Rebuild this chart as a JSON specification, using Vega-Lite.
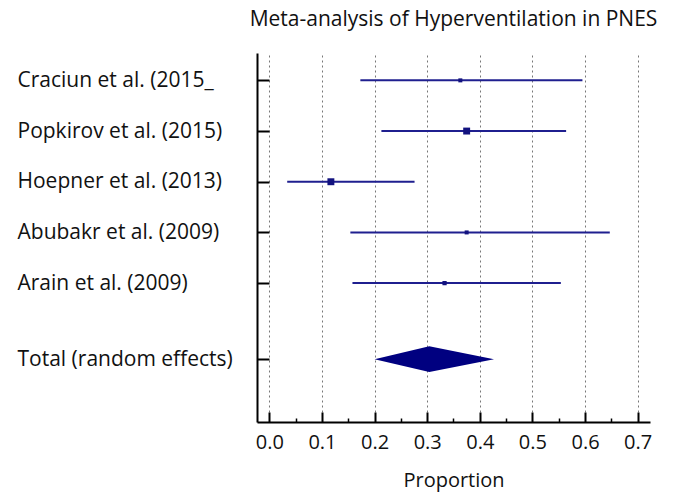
{
  "$schema": "https://vega.github.io/schema/vega-lite/v6.json",
  "width": 393,
  "height": 369,
  "autosize": {"type": "none"},
  "padding": {"left": 257, "top": 53, "right": 23, "bottom": 70},
  "background": "white",
  "title": {
    "text": "Meta-analysis of Hyperventilation in PNES",
    "font": "Open Sans",
    "fontSize": 21,
    "fontWeight": "normal",
    "color": "#111",
    "anchor": "middle",
    "offset": 23
  },
  "config": {
    "view": {"stroke": null},
    "font": "Open Sans"
  },
  "datasets": {
    "studies": [
      {"study": "Craciun et al. (2015_", "order": 1, "est": 0.363, "lo": 0.173, "hi": 0.595, "w": 8},
      {"study": "Popkirov et al. (2015)", "order": 2, "est": 0.375, "lo": 0.213, "hi": 0.564, "w": 24},
      {"study": "Hoepner et al. (2013)", "order": 3, "est": 0.117, "lo": 0.034, "hi": 0.276, "w": 24},
      {"study": "Abubakr et al. (2009)", "order": 4, "est": 0.375, "lo": 0.154, "hi": 0.647, "w": 8},
      {"study": "Arain et al. (2009)", "order": 5, "est": 0.333, "lo": 0.158, "hi": 0.554, "w": 9}
    ],
    "total": [
      {"x": 0.2, "ylo": 6.5, "yhi": 6.5},
      {"x": 0.304, "ylo": 6.244, "yhi": 6.756},
      {"x": 0.427, "ylo": 6.5, "yhi": 6.5}
    ]
  },
  "resolve": {"axis": {"x": "independent"}},
  "layer": [
    {
      "data": {"name": "studies"},
      "mark": {"type": "rule", "color": "#1f1f8f", "strokeWidth": 2},
      "encoding": {
        "x": {
          "field": "lo", "type": "quantitative",
          "scale": {"domain": [-0.0234, 0.7234], "nice": false, "zero": false},
          "axis": {
            "values": [0, 0.1, 0.2, 0.3, 0.4, 0.5, 0.6, 0.7],
            "format": ".1f",
            "title": "Proportion",
            "titleFont": "Open Sans",
            "titleFontSize": 20,
            "titleFontWeight": "normal",
            "titleColor": "#111",
            "titlePadding": 18,
            "labelFont": "Open Sans",
            "labelFontSize": 20,
            "labelColor": "#111",
            "labelPadding": 20,
            "tickSize": -10,
            "tickWidth": 2,
            "tickColor": "#000",
            "domainColor": "#000",
            "domainWidth": 2,
            "grid": true,
            "gridColor": "#777",
            "gridDash": [2, 3],
            "gridWidth": 1
          }
        },
        "x2": {"field": "hi"},
        "y": {
          "field": "order", "type": "quantitative",
          "scale": {"domain": [0.46, 7.74], "reverse": true, "nice": false, "zero": false},
          "axis": {
            "values": [1, 2, 3, 4, 5, 6.5],
            "labelExpr": "datum.value == 1 ? 'Craciun et al. (2015_' : datum.value == 2 ? 'Popkirov et al. (2015)' : datum.value == 3 ? 'Hoepner et al. (2013)' : datum.value == 4 ? 'Abubakr et al. (2009)' : datum.value == 5 ? 'Arain et al. (2009)' : 'Total (random effects)'",
            "labelAlign": "left",
            "labelPadding": 252,
            "labelLimit": 300,
            "labelFont": "Open Sans",
            "labelFontSize": 21,
            "labelColor": "#111",
            "tickSize": -12,
            "tickWidth": 2,
            "tickColor": "#000",
            "domainColor": "#000",
            "domainWidth": 2,
            "grid": false,
            "title": null
          }
        }
      }
    },
    {
      "data": {"name": "studies"},
      "mark": {"type": "point", "shape": "square", "filled": true, "color": "#12127f", "opacity": 1},
      "encoding": {
        "x": {"field": "est", "type": "quantitative", "axis": null},
        "y": {"field": "order", "type": "quantitative"},
        "size": {"field": "w", "type": "quantitative", "scale": {"domain": [0, 25], "range": [0, 50]}, "legend": null}
      }
    },
    {
      "data": {"name": "total"},
      "mark": {"type": "area", "orient": "vertical", "color": "#000080", "opacity": 1},
      "encoding": {
        "x": {
          "field": "x", "type": "quantitative",
          "axis": {
            "orient": "bottom",
            "values": [0.05, 0.15, 0.25, 0.35, 0.45, 0.55, 0.65],
            "labels": false,
            "domain": false,
            "grid": false,
            "tickSize": -4,
            "tickWidth": 1.5,
            "tickColor": "#000",
            "title": null
          }
        },
        "y": {"field": "ylo", "type": "quantitative"},
        "y2": {"field": "yhi"}
      }
    }
  ]
}
